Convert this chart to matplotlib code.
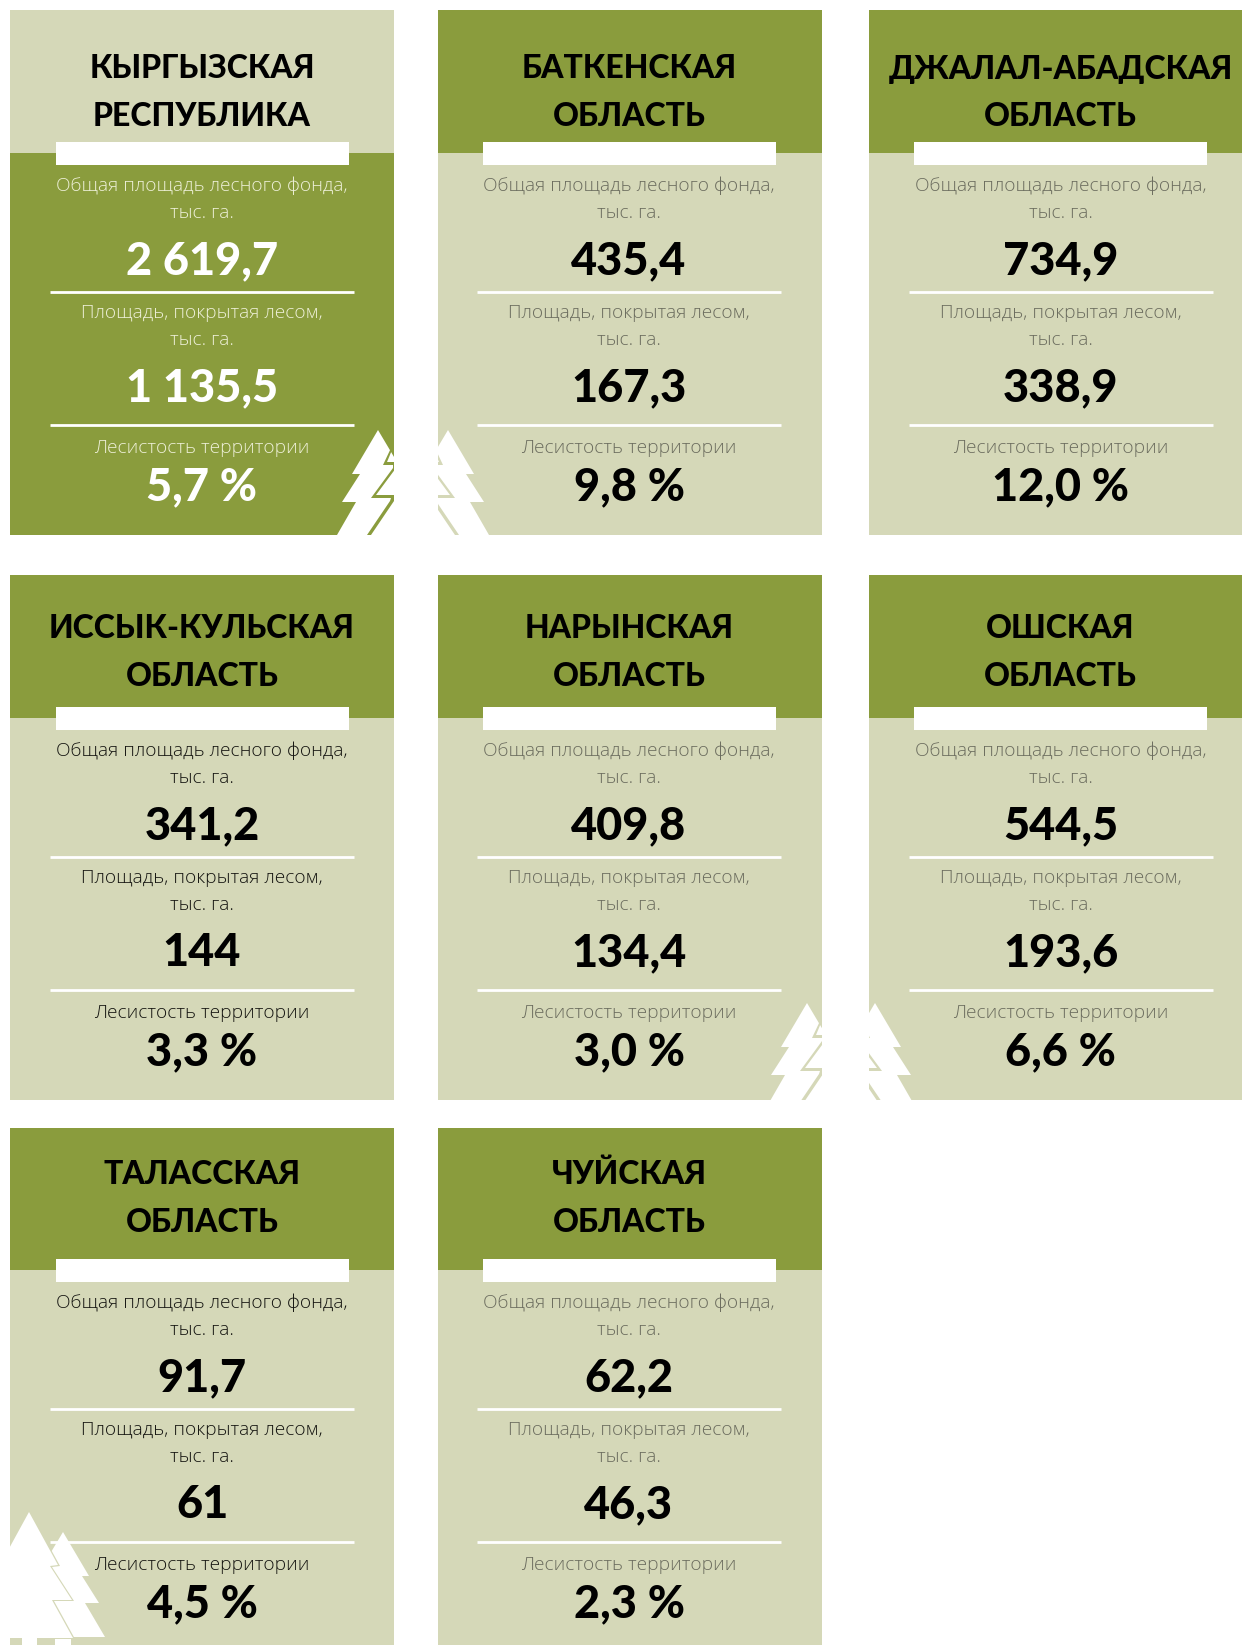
import matplotlib
matplotlib.use('Agg')
import matplotlib.pyplot as plt
from matplotlib.patches import Polygon, Rectangle

W, H = 1242, 1645
OLIVE = '#8a9c3d'
PALE = '#d5d8b8'

# данные
title_top = ['КЫРГЫЗСКАЯ', 'БАТКЕНСКАЯ', 'ДЖАЛАЛ-АБАДСКАЯ', 'ИССЫК-КУЛЬСКАЯ', 'НАРЫНСКАЯ', 'ОШСКАЯ', 'ТАЛАССКАЯ', 'ЧУЙСКАЯ']
title_bottom = ['РЕСПУБЛИКА', 'ОБЛАСТЬ', 'ОБЛАСТЬ', 'ОБЛАСТЬ', 'ОБЛАСТЬ', 'ОБЛАСТЬ', 'ОБЛАСТЬ', 'ОБЛАСТЬ']
fund_area = ['2 619,7', '435,4', '734,9', '341,2', '409,8', '544,5', '91,7', '62,2']
forest_area = ['1 135,5', '167,3', '338,9', '144', '134,4', '193,6', '61', '46,3']
forest_share = ['5,7 %', '9,8 %', '12,0 %', '3,3 %', '3,0 %', '6,6 %', '4,5 %', '2,3 %']

label_fund = ['Общая площадь лесного фонда,', 'тыс. га.']
label_forest = ['Площадь, покрытая лесом,', 'тыс. га.']
label_share = 'Лесистость территории'

# раскладка карточек
col_left = [10, 438, 869]
col_right = [394, 822, 1242]
col_center = [202, 629, 1060.5]
row_top = [10, 575, 1128]
row_bottom = [535, 1100, 1645]
row_shift = [0, 565, 1117]
title_shift = [0, 560, 1105]

# цвета подписей: тёмный в левой колонке, серый в остальных
GREY = '#6b6c5e'
DARK = '#141410'

# контур ёлки от вершины
TREE = [(0, 0), (26, 44), (18, 44), (36, 72), (22, 72), (41, 105)]
SLIVER = [(13, 18), (5, 35), (15, 35), (15, 38), (-7, 68), (13, 68), (12, 71), (-11, 105),
          (-7, 105), (16, 71), (17, 65), (-2, 65), (18, 38), (18, 32), (9, 32), (14, 20)]

fig = plt.figure(figsize=(W / 100, H / 100), dpi=100)
ax = fig.add_axes([0, 0, 1, 1])
ax.set_xlim(0, W)
ax.set_ylim(H, 0)
ax.axis('off')

BOLD_FONT = ['Lato', 'Roboto', 'DejaVu Sans']
LIGHT_FONT = ['Open Sans', 'Roboto', 'DejaVu Sans']


def txt(x, y, s, size, color, weight, fam):
    ax.text(x, y, s, ha='center', va='center', fontsize=size, color=color, fontweight=weight, family=fam)


def add_tree(apex_x, apex_y, clip, sign, colour):
    # sign=-1: зеркальная ёлка справа от просвета
    edge = [(apex_x - sign * x, apex_y + y) for x, y in TREE]
    edge += [(apex_x + sign * 60, apex_y + 105), (apex_x + sign * 60, apex_y + 101)]
    p = ax.add_patch(Polygon(edge, fc='white', ec='none', zorder=3))
    p.set_clip_path(clip)
    s = ax.add_patch(Polygon([(apex_x + sign * x, apex_y + y) for x, y in SLIVER], fc=colour, ec='none', zorder=4))
    s.set_clip_path(clip)


for i in range(8):
    row, col = i // 3, i % 3
    left, right = col_left[col], col_right[col]
    top, bottom = row_top[row], row_bottom[row]
    dy, ty = row_shift[row], title_shift[row]
    cx = col_center[col]
    head_y = 153 + dy
    first = i == 0

    head_col, body_col = (PALE, OLIVE) if first else (OLIVE, PALE)
    card = ax.add_patch(Rectangle((left, top), right - left, bottom - top, fc=body_col, ec='none', zorder=1))
    ax.add_patch(Rectangle((left, top), right - left, head_y - top, fc=head_col, ec='none', zorder=1))
    ax.add_patch(Rectangle((cx - 146.5, 142 + dy), 293, 23, fc='white', ec='none', zorder=2))
    ax.plot([cx - 152, cx + 152], [292 + dy, 292 + dy], color='white', lw=2, zorder=2, solid_capstyle='butt')
    ax.plot([cx - 152, cx + 152], [425 + dy, 425 + dy], color='white', lw=2, zorder=2, solid_capstyle='butt')

    txt(cx, 69 + ty, title_top[i], 23, 'black', 'black', BOLD_FONT)
    txt(cx, 117 + ty, title_bottom[i], 23, 'black', 'black', BOLD_FONT)

    if first:
        lab = '#eef0d8'
        val = 'white'
    else:
        lab = DARK if col == 0 else GREY
        val = 'black'
    txt(cx, 186 + dy, label_fund[0], 13.8, lab, 'light', LIGHT_FONT)
    txt(cx, 213 + dy, label_fund[1], 13.8, lab, 'light', LIGHT_FONT)
    txt(cx, 261 + dy, fund_area[i], 32.5, val, 'black', BOLD_FONT)
    txt(cx, 313 + dy, label_forest[0], 13.8, lab, 'light', LIGHT_FONT)
    txt(cx, 340 + dy, label_forest[1], 13.8, lab, 'light', LIGHT_FONT)
    txt(cx, 388 + dy, forest_area[i], 32.5, val, 'black', BOLD_FONT)
    txt(cx, 448 + dy, label_share, 13.8, lab, 'light', LIGHT_FONT)
    txt(cx, 487 + dy, forest_share[i], 32.5, val, 'black', BOLD_FONT)

    # ёлки
    if i == 0:
        add_tree(378, 430, card, 1, OLIVE)
    if i == 1:
        add_tree(448, 430, card, -1, PALE)
    if i == 4:
        add_tree(807, 1003, card, 1, PALE)
    if i == 5:
        add_tree(875, 1003, card, -1, PALE)
    if i == 6:
        # вторая ёлка сзади
        back = [(63, 1532), (89, 1576), (82, 1576), (99, 1603), (85, 1603), (105, 1637), (71, 1637),
                (71, 1645), (55, 1645), (55, 1637), (38, 1637), (38, 1574)]
        p = ax.add_patch(Polygon(back, fc='white', ec='none', zorder=3))
        p.set_clip_path(card)
        big = [(29, 1512), (58, 1565), (50, 1566), (72, 1600), (52, 1600), (73, 1638), (0, 1638), (0, 1565)]
        for shift, colour, z in [(2, PALE, 4), (0, 'white', 5)]:
            q = ax.add_patch(Polygon([(x + shift, y + shift / 2) for x, y in big], fc=colour, ec='none', zorder=z))
            q.set_clip_path(card)
        ax.add_patch(Rectangle((22, 1637), 15, 8, fc='white', ec='none', zorder=5))

fig.savefig('out.png', dpi=100, facecolor='white')
